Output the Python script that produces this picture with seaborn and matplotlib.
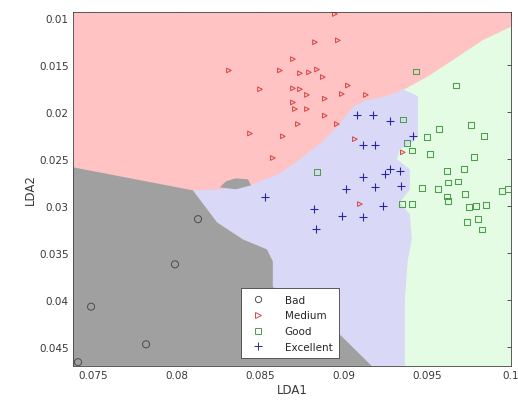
import numpy as np
import pandas as pd
import seaborn as sns
import matplotlib.pyplot as plt
from matplotlib.lines import Line2D
from matplotlib.ticker import FuncFormatter

# class samples (LDA1, LDA2)
bad_x = [0.08128, 0.0799, 0.07488, 0.07817, 0.0741]
bad_y = [0.0314, 0.0362, 0.0407, 0.0447, 0.0466]

medium_x = [0.08947, 0.08828, 0.08965, 0.08696, 0.08313, 0.08618, 0.08738, 0.08792,
            0.08840, 0.08875, 0.08499, 0.08696, 0.08738, 0.08780, 0.08887, 0.09025,
            0.08989, 0.09133, 0.08696, 0.08708, 0.08780, 0.08887, 0.08726, 0.08959,
            0.08439, 0.08636, 0.08576, 0.09067, 0.09354, 0.09097]
medium_y = [0.0096, 0.0126, 0.0124, 0.0144, 0.0156, 0.0156, 0.0159, 0.0158,
            0.0155, 0.0163, 0.0176, 0.0175, 0.0176, 0.0182, 0.0186, 0.0172,
            0.0181, 0.0182, 0.0190, 0.0197, 0.0197, 0.0204, 0.0213, 0.0213,
            0.0223, 0.0226, 0.0249, 0.0229, 0.0243, 0.0298]

good_x = [0.09432, 0.09671, 0.09354, 0.09569, 0.09760, 0.09838, 0.09497, 0.09378,
          0.09408, 0.09515, 0.09778, 0.09617, 0.09719, 0.09623, 0.09683, 0.09467,
          0.09563, 0.09617, 0.09725, 0.09946, 0.09982, 0.09623, 0.09348, 0.09408,
          0.09748, 0.09790, 0.09850, 0.09802, 0.09736, 0.09826, 0.08840]
good_y = [0.0157, 0.0172, 0.0208, 0.0218, 0.0214, 0.0226, 0.0227, 0.0233,
          0.0241, 0.0245, 0.0248, 0.0263, 0.0261, 0.0275, 0.0274, 0.0281,
          0.0282, 0.0290, 0.0287, 0.0284, 0.0282, 0.0295, 0.0298, 0.0298,
          0.0301, 0.0300, 0.0299, 0.0314, 0.0317, 0.0325, 0.0264]

excellent_x = [0.09079, 0.09174, 0.09276, 0.09414, 0.09115, 0.09186, 0.09276, 0.09336,
               0.09246, 0.09115, 0.09186, 0.09342, 0.09013, 0.09234, 0.08822, 0.08989,
               0.09115, 0.08834, 0.08529]
excellent_y = [0.0203, 0.0203, 0.0210, 0.0226, 0.0235, 0.0235, 0.0261, 0.0263,
               0.0266, 0.0269, 0.0280, 0.0279, 0.0282, 0.0300, 0.0303, 0.0311,
               0.0312, 0.0324, 0.0290]

# decision region edges
medium_edge_x = [0.0738, 0.08098, 0.08259, 0.08439, 0.08618, 0.08738, 0.08875, 0.08959,
                 0.09019, 0.09067, 0.09139, 0.09276, 0.09354, 0.09497, 0.09653, 0.09832, 0.1]
medium_edge_y = [0.02589, 0.02834, 0.02823, 0.02781, 0.02653, 0.02504, 0.02313, 0.02164,
                 0.02026, 0.01930, 0.01877, 0.01824, 0.01760, 0.01622, 0.01441, 0.01229, 0.01090]
bad_edge_x = [0.08098, 0.08242, 0.08397, 0.08541, 0.08576, 0.08576, 0.08678, 0.08977, 0.09168]
bad_edge_y = [0.02834, 0.03174, 0.03355, 0.03461, 0.03589, 0.03854, 0.04099, 0.04365, 0.047]
bad_island_x = [0.08259, 0.08295, 0.08355, 0.08427, 0.08445, 0.08355]
bad_island_y = [0.02802, 0.02738, 0.02706, 0.02717, 0.02781, 0.02823]
excellent_edge_x = [0.09354, 0.09444, 0.09444, 0.09396, 0.09336, 0.09318, 0.09396, 0.09396,
                    0.09336, 0.09396, 0.09408, 0.09384, 0.09366, 0.09366]
excellent_edge_y = [0.01760, 0.01834, 0.02260, 0.02345, 0.02398, 0.02504, 0.02610, 0.02823,
                    0.02961, 0.03089, 0.03355, 0.03568, 0.03993, 0.047]

x_lim = (0.0738, 0.1)
y_lim = (0.047, 0.0094)

sns.set_style("white")
plt.rcParams['font.family'] = ['DejaVu Sans']

fig = plt.figure(figsize=(5.18, 4.10), dpi=100)
ax = fig.add_axes([0.141, 0.105, 0.845, 0.863])

# regions: green background, then medium, excellent, bad
ax.set_facecolor("#e4fbe4")
ax.fill_between(medium_edge_x, y_lim[1], medium_edge_y, color="#ffc3c3", lw=0)
blue_x = medium_edge_x[1:13] + excellent_edge_x[1:] + bad_edge_x[::-1]
blue_y = medium_edge_y[1:13] + excellent_edge_y[1:] + bad_edge_y[::-1]
ax.fill(blue_x, blue_y, color="#d9d9f7", lw=0)
gray_x = [x_lim[0]] + bad_edge_x + [x_lim[0]]
gray_y = [medium_edge_y[0]] + bad_edge_y + [y_lim[0]]
ax.fill(gray_x, gray_y, color="#a0a0a0", lw=0)
ax.fill(bad_island_x, bad_island_y, color="#a0a0a0", lw=0)

groups = [
    ("Bad", bad_x, bad_y, "o", "#505050", 26),
    ("Medium", medium_x, medium_y, ">", "#d84848", 11),
    ("Good", good_x, good_y, "s", "#48a048", 17),
    ("Excellent", excellent_x, excellent_y, "P", "#28289a", 0),
]
handles = []
for name, xs, ys, mk, col, sz in groups:
    df = pd.DataFrame({"LDA1": xs, "LDA2": ys})
    if mk == "P":
        sns.scatterplot(data=df, x="LDA1", y="LDA2", marker="+", color=col, s=36,
                        linewidth=0.8, ax=ax, legend=False)
        handles.append(Line2D([], [], ls="", marker="+", color=col, ms=5.5, mew=0.7, label=name))
    else:
        sns.scatterplot(data=df, x="LDA1", y="LDA2", marker=mk, color=col, s=sz,
                        linewidth=0.75, ax=ax, legend=False)
        pts = ax.collections[-1]
        pts.set_facecolor("none")
        pts.set_edgecolor(col)
        handles.append(Line2D([], [], ls="", marker=mk, mfc="none", mec=col,
                              ms=4.5, mew=0.7, label=name))

ax.set_xlim(*x_lim)
ax.set_ylim(*y_lim)
ax.set_xticks([0.075, 0.08, 0.085, 0.09, 0.095, 0.1])
ax.set_yticks([0.01, 0.015, 0.02, 0.025, 0.03, 0.035, 0.04, 0.045])
fmt = FuncFormatter(lambda v, p: "%g" % v)
ax.xaxis.set_major_formatter(fmt)
ax.yaxis.set_major_formatter(fmt)
ax.tick_params(direction="in", top=True, right=True, length=3, width=0.6,
               labelsize=7.5, colors="#383838", pad=3)
for s in ax.spines.values():
    s.set_color("#404040")
    s.set_linewidth(0.6)
ax.set_xlabel("LDA1", fontsize=8.5, color="#383838", labelpad=2)
ax.set_ylabel("LDA2", fontsize=8.5, color="#383838", labelpad=2)

leg = ax.legend(handles=handles, loc="lower left", bbox_to_anchor=(0.384, 0.022),
                fontsize=7.5, frameon=True, fancybox=False, framealpha=1,
                edgecolor="#404040", borderpad=0.6, labelspacing=0.55,
                handletextpad=1.6, handlelength=2.0, borderaxespad=0)
leg.get_frame().set_linewidth(0.6)

fig.savefig("out.png", dpi=100)
